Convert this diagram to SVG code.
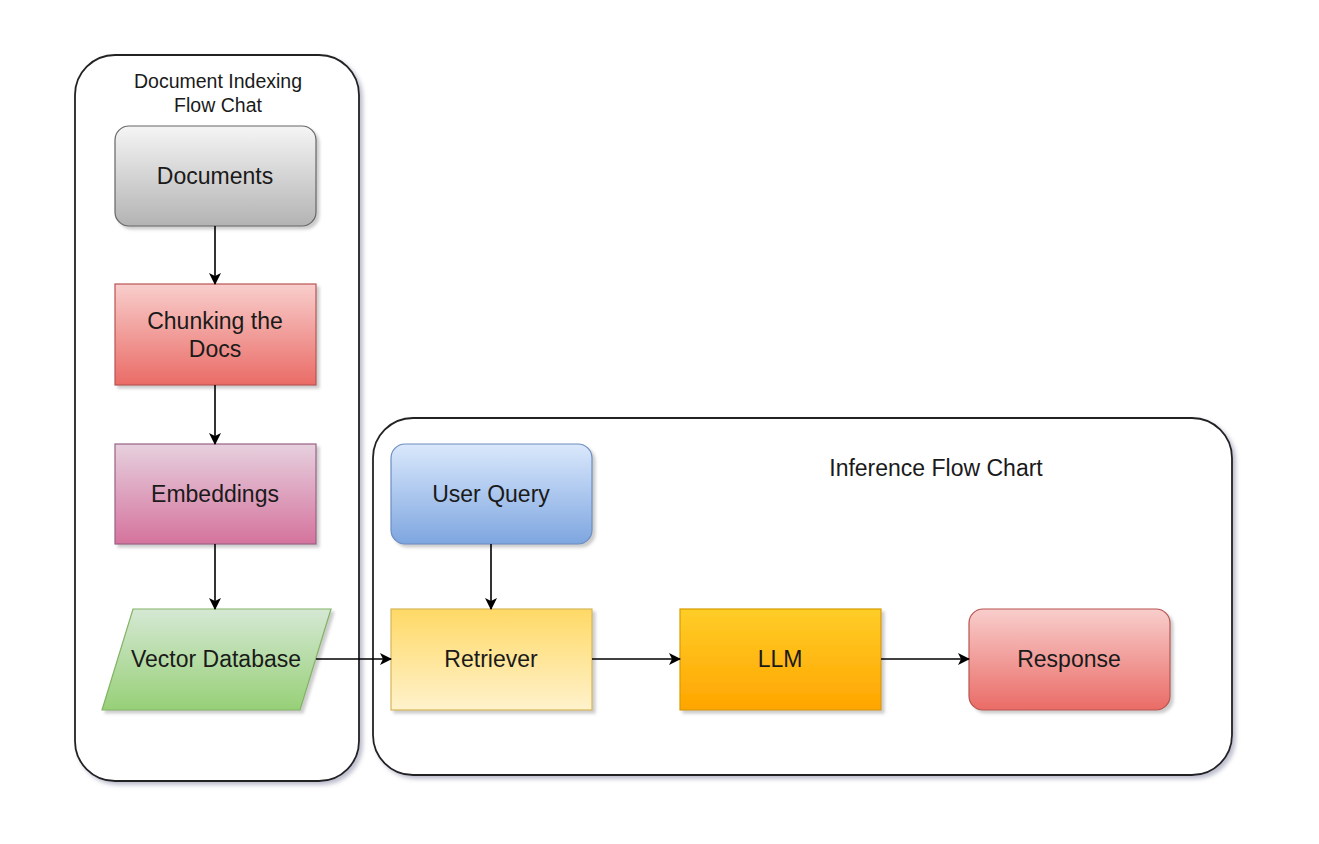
<svg xmlns="http://www.w3.org/2000/svg" width="1319" height="844" viewBox="0 0 1319 844">
<style>
.lbl{font-family:"Liberation Sans",Arial,sans-serif;font-size:23px;fill:#1a1a1a;text-anchor:middle;dominant-baseline:central}
.ttl{font-family:"Liberation Sans",Arial,sans-serif;font-size:19.5px;fill:#1a1a1a;text-anchor:middle;dominant-baseline:central}
.cont{fill:#ffffff;stroke:#222;stroke-width:1.8}
.edge{stroke:#000;stroke-width:1.6;fill:none;marker-end:url(#ah)}
</style>
<defs>
<filter id="sh" x="-10%" y="-10%" width="130%" height="130%"><feDropShadow dx="3" dy="3" stdDeviation="2" flood-color="#6a7090" flood-opacity="0.45"/></filter>
<filter id="shn" x="-10%" y="-10%" width="130%" height="130%"><feDropShadow dx="3" dy="3" stdDeviation="1.5" flood-color="#808080" flood-opacity="0.4"/></filter>
<linearGradient id="gGray" x1="0" y1="0" x2="0" y2="1"><stop offset="0" stop-color="#f5f5f5"/><stop offset="1" stop-color="#b3b3b3"/></linearGradient>
<linearGradient id="gRed" x1="0" y1="0" x2="0" y2="1"><stop offset="0" stop-color="#f8cecc"/><stop offset="1" stop-color="#ea6b66"/></linearGradient>
<linearGradient id="gPink" x1="0" y1="0" x2="0" y2="1"><stop offset="0" stop-color="#e6d0de"/><stop offset="1" stop-color="#d5739d"/></linearGradient>
<linearGradient id="gGreen" x1="0" y1="0" x2="0" y2="1"><stop offset="0" stop-color="#d5e8d4"/><stop offset="1" stop-color="#97d077"/></linearGradient>
<linearGradient id="gBlue" x1="0" y1="0" x2="0" y2="1"><stop offset="0" stop-color="#dae8fc"/><stop offset="1" stop-color="#7ea6e0"/></linearGradient>
<linearGradient id="gYel" x1="0" y1="0" x2="0" y2="1"><stop offset="0" stop-color="#ffd966"/><stop offset="1" stop-color="#fff2cc"/></linearGradient>
<linearGradient id="gOr" x1="0" y1="0" x2="0" y2="1"><stop offset="0" stop-color="#ffcd28"/><stop offset="1" stop-color="#ffa500"/></linearGradient>
<marker id="ah" viewBox="0 0 12 12" refX="11" refY="6" markerWidth="12" markerHeight="12" markerUnits="userSpaceOnUse" orient="auto"><path d="M0,0 L12,6 L0,12 L3,6 Z" fill="#000"/></marker>
</defs>
<rect width="1319" height="844" fill="#ffffff"/>
<g id="indexing-container">
<rect class="cont" x="75" y="55" width="284" height="726" rx="40" filter="url(#sh)"/>
<text class="ttl" x="218" y="81">Document Indexing</text>
<text class="ttl" x="218" y="105">Flow Chat</text>
</g>
<g id="inference-container">
<rect class="cont" x="373" y="418" width="859" height="357" rx="40" filter="url(#sh)"/>
<text class="ttl" x="936" y="468" style="font-size:23px">Inference Flow Chart</text>
</g>
<g id="documents">
<rect x="115" y="126" width="201" height="100" rx="14" fill="url(#gGray)" stroke="#666" stroke-width="1.2" filter="url(#shn)"/>
<text class="lbl" x="215" y="176">Documents</text>
</g>
<g id="chunking">
<rect x="115" y="284" width="201" height="101" fill="url(#gRed)" stroke="#b85450" stroke-width="1.2" filter="url(#shn)"/>
<text class="lbl" x="215" y="321">Chunking the</text>
<text class="lbl" x="215" y="349">Docs</text>
</g>
<g id="embeddings">
<rect x="115" y="444" width="201" height="100" fill="url(#gPink)" stroke="#996185" stroke-width="1.2" filter="url(#shn)"/>
<text class="lbl" x="215" y="494">Embeddings</text>
</g>
<g id="vector-db">
<polygon points="133,609 331,609 300,710 102,710" fill="url(#gGreen)" stroke="#82b366" stroke-width="1.2" filter="url(#shn)"/>
<text class="lbl" x="216" y="659">Vector Database</text>
</g>
<g id="user-query">
<rect x="391" y="444" width="201" height="100" rx="14" fill="url(#gBlue)" stroke="#6c8ebf" stroke-width="1.2" filter="url(#shn)"/>
<text class="lbl" x="491" y="494">User Query</text>
</g>
<g id="retriever">
<rect x="391" y="609" width="201" height="101" fill="url(#gYel)" stroke="#d6b656" stroke-width="1.2" filter="url(#shn)"/>
<text class="lbl" x="491" y="659">Retriever</text>
</g>
<g id="llm">
<rect x="680" y="609" width="201" height="101" fill="url(#gOr)" stroke="#d79b00" stroke-width="1.2" filter="url(#shn)"/>
<text class="lbl" x="780" y="659">LLM</text>
</g>
<g id="response">
<rect x="969" y="609" width="201" height="101" rx="14" fill="url(#gRed)" stroke="#b85450" stroke-width="1.2" filter="url(#shn)"/>
<text class="lbl" x="1069" y="659">Response</text>
</g>
<g id="connectors">
<path class="edge" d="M215,226 L215,284"/>
<path class="edge" d="M215,385 L215,444"/>
<path class="edge" d="M215,544 L215,609"/>
<path class="edge" d="M316,659 L391,659"/>
<path class="edge" d="M491,544 L491,609"/>
<path class="edge" d="M592,659 L680,659"/>
<path class="edge" d="M881,659 L969,659"/>
</g>
</svg>
